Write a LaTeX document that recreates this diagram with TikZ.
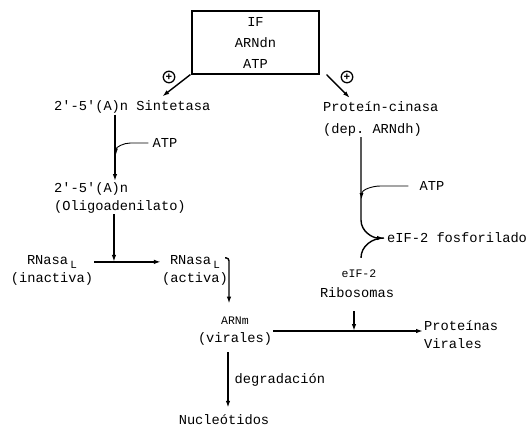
\documentclass[tikz,border=0pt]{standalone}
\usepackage{fontspec}
\setmonofont{Liberation Mono}
\usepackage{tikz}
\usetikzlibrary{arrows.meta,positioning,calc}

\begin{document}
\begin{tikzpicture}[x=1pt,y=-1pt,font=\ttfamily\fontsize{13.7}{18}\selectfont,
  lab/.style={inner sep=1pt,align=left},
  smalllab/.style={inner sep=1pt,font=\ttfamily\fontsize{11.5}{13}\selectfont},
  arr/.style={line width=1.4pt,-{Latex[length=7pt,width=4.5pt]}},
  feed/.style={line width=0.9pt,-{Latex[length=6pt,width=4pt]}},
  pluscirc/.style={circle,draw,line width=1.3pt,inner sep=0pt,minimum size=11.5pt,
                   font=\ttfamily\bfseries\fontsize{11}{11}\selectfont}]
  \useasboundingbox (0,0) rectangle (531,429);
  % inductores
  \node[draw,line width=1.2pt,minimum width=127pt,minimum height=63pt,align=center,inner sep=2pt]
    (ind) at (255.5,42.5) {IF\\[3pt]ARNdn\\[3pt]ATP};
  \foreach \n/\p in {actL/{169,77},actR/{347,77}}
    \node[pluscirc] (\n) at (\p) {+};
  % ruta 2'-5'(A)n
  \node[lab,anchor=west] (sint) at (53,107) {2'-5'(A)n Sintetasa};
  \node[lab,anchor=north west] (oligo) at (53,181) {2'-5'(A)n\\(Oligoadenilato)};
  \node[lab] (atpL) at (165,143) {ATP};
  \node[lab,align=center] (rinact) at (52,270) {RNasa\,\raisebox{-4pt}{\fontsize{11}{11}\selectfont L}\\(inactiva)};
  \node[lab,align=center] (ract) at (195,270) {RNasa\,\raisebox{-4pt}{\fontsize{11}{11}\selectfont L}\\(activa)};
  \node[lab,align=center] (arnm) at (235,331) {{\fontsize{11.5}{13}\selectfont ARNm}\\(virales)};
  \node[lab] (nuc) at (224,420) {Nucleótidos};
  % ruta proteín-cinasa
  \node[lab,anchor=west] (pk) at (322,118.5) {Proteín-cinasa\\[4pt](dep. ARNdh)};
  \node[lab] (atpR) at (432,186) {ATP};
  \node[lab,anchor=west] (fos) at (386,238) {eIF-2 fosforilado};
  \node[smalllab] (eif) at (359,274) {eIF-2};
  \node[lab] (ribo) at (357,293) {Ribosomas};
  \node[lab,anchor=west] (prot) at (423,335) {Proteínas\\Virales};

  \draw[arr] ([xshift=-1pt]ind.south west) -- ([xshift=30pt,yshift=3pt]sint.north);
  \draw[arr] ([xshift=7pt]ind.south east) -- ([xshift=-31pt,yshift=2pt]pk.north);

  \coordinate (vL) at ([xshift=-5pt]oligo.north |- sint.south);
  \draw[arr] (vL) -- ([xshift=-5pt]oligo.north);
  \draw[feed] ([xshift=-3pt]atpL.west) -- ++(-18,0) to[out=180,in=90] ([xshift=1pt,yshift=-40pt]vL);
  \coordinate (hit) at ([yshift=-8pt]rinact.north east);
  \draw[arr] (hit) -- ([yshift=-8pt]ract.north west);
  \draw[arr] ([xshift=-6pt]oligo.south) -- ([xshift=-6pt]oligo.south |- hit);
  \draw[arr,rounded corners=3pt] ([xshift=-4pt,yshift=-4pt]ract.north east)
    -| ([xshift=-6pt,yshift=12pt]arnm.north);
  \draw[arr] (arnm.east) -- (arnm.east -| prot.west);
  \draw[arr] ([xshift=4pt,yshift=-6pt]nuc.north |- arnm.south) -- ([xshift=4pt,yshift=6pt]nuc.north)
    node[midway,right=5pt,inner sep=1pt] (degr) {degradación};

  \coordinate (vR) at ([xshift=39pt]pk.south west);
  \coordinate (tipF) at ([xshift=-2pt]fos.west);
  \draw[arr] (vR) -- ++(0,83) to[out=-90,in=180] (tipF);
  \draw[line width=1.4pt] ([xshift=2pt,yshift=11pt]eif.north) to[out=90,in=180] (tipF);
  \draw[feed] ([xshift=-10pt]atpR.west) -- ++(-28,0) to[out=180,in=90] ([xshift=0.5pt,yshift=-62pt]vR);
  \draw[arr] ([xshift=-3pt,yshift=-12pt]ribo.south) -- ([xshift=-3pt]ribo.south |- arnm.east);
\end{tikzpicture}
\end{document}
